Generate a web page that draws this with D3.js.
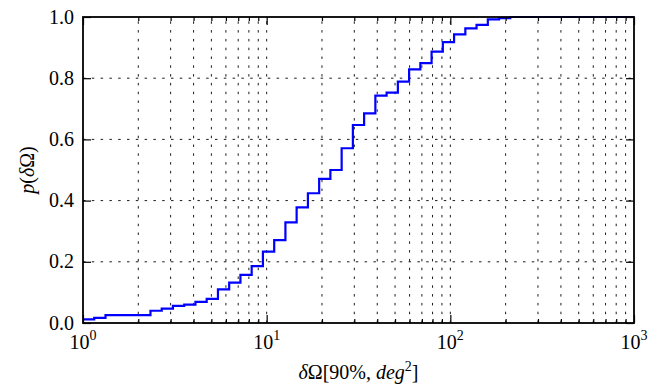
<!DOCTYPE html>
<html>
<head>
<meta charset="utf-8">
<script src="https://cdn.jsdelivr.net/npm/d3@7/dist/d3.min.js"></script>
<style>
  html, body { margin: 0; padding: 0; background: #fff; }
  svg { display: block; }
</style>
</head>
<body>
<svg id="chart" width="670" height="392"></svg>
<script>
// Cumulative distribution of the 90% sky-area, one level per log-spaced bin.
// stepStart: left edge of each bin (deg^2); cdfLevel: p(dOmega) over that bin.
const stepStart = [1, 1.151, 1.326, 2.330, 2.683, 3.089, 3.557, 4.095, 4.715, 5.429,
  6.251, 7.197, 8.286, 9.541, 10.99, 12.65, 14.56, 16.77, 19.31, 22.23,
  25.60, 29.47, 33.93, 39.07, 44.98, 51.80, 59.64, 68.67, 79.06, 91.03,
  104.8, 120.7, 138.9, 160.0, 184.2, 212.1];
const cdfLevel = [0.012, 0.017, 0.026, 0.040, 0.047, 0.056, 0.060, 0.069, 0.079, 0.110,
  0.132, 0.157, 0.186, 0.233, 0.271, 0.329, 0.378, 0.424, 0.471, 0.500,
  0.571, 0.647, 0.685, 0.743, 0.753, 0.789, 0.829, 0.849, 0.887, 0.918,
  0.943, 0.963, 0.974, 0.992, 0.996, 1.0];
const xMax = 1000;

const xMajor = [1, 10, 100, 1000];
const xMajorExp = ["0", "1", "2", "3"];
const xMinor = [2, 3, 4, 5, 6, 7, 8, 9, 20, 30, 40, 50, 60, 70, 80, 90,
  200, 300, 400, 500, 600, 700, 800, 900];
const yTicks = [0, 0.2, 0.4, 0.6, 0.8, 1.0];
const yTickLabels = ["0.0", "0.2", "0.4", "0.6", "0.8", "1.0"];

const FONT = "'Liberation Serif', 'Times New Roman', Times, 'DejaVu Serif', serif";
const L = 83, R = 634, T = 17, B = 323;
const svg = d3.select("#chart");
const x = d3.scaleLog().domain([1, xMax]).range([L, R]);
const y = d3.scaleLinear().domain([0, 1]).range([B, T]);

const dash = "2.5,6.3";
const grid = svg.append("g").attr("stroke", "#000").attr("stroke-width", 0.9)
  .attr("stroke-dasharray", dash).attr("fill", "none");

// vertical grid: minor and major decades
xMinor.concat(xMajor.slice(1, 3)).forEach(v => {
  grid.append("line").attr("x1", x(v)).attr("x2", x(v)).attr("y1", B).attr("y2", T);
});
// horizontal grid
yTicks.slice(1, 5).forEach(v => {
  grid.append("line").attr("x1", L).attr("x2", R).attr("y1", y(v)).attr("y2", y(v));
});

// CDF step line
const pts = stepStart.map((s, i) => [s, cdfLevel[i]]);
pts.push([xMax, cdfLevel[cdfLevel.length - 1]]);
const line = d3.line().x(d => x(d[0])).y(d => y(d[1])).curve(d3.curveStepAfter);
svg.append("path").datum(pts).attr("d", line)
  .attr("fill", "none").attr("stroke", "#0000ff").attr("stroke-width", 2.2);

// inward ticks on all four sides
function styleAxis(g) {
  g.select(".domain").remove();
  g.selectAll(".tick line").attr("stroke", "#000").attr("stroke-width", 1.2);
  g.selectAll(".tick text").remove();
}
svg.append("g").attr("transform", `translate(0,${B})`)
  .call(d3.axisBottom(x).tickValues(xMajor).tickSize(-8).tickFormat("")).call(styleAxis);
svg.append("g").attr("transform", `translate(0,${B})`)
  .call(d3.axisBottom(x).tickValues(xMinor).tickSize(-4).tickFormat("")).call(styleAxis);
svg.append("g").attr("transform", `translate(0,${T})`)
  .call(d3.axisTop(x).tickValues(xMajor).tickSize(-8).tickFormat("")).call(styleAxis);
svg.append("g").attr("transform", `translate(0,${T})`)
  .call(d3.axisTop(x).tickValues(xMinor).tickSize(-4).tickFormat("")).call(styleAxis);
svg.append("g").attr("transform", `translate(${L},0)`)
  .call(d3.axisLeft(y).tickValues(yTicks).tickSize(-8).tickFormat("")).call(styleAxis);
svg.append("g").attr("transform", `translate(${R},0)`)
  .call(d3.axisRight(y).tickValues(yTicks).tickSize(-8).tickFormat("")).call(styleAxis);

// frame
svg.append("rect").attr("x", L).attr("y", T).attr("width", R - L).attr("height", B - T)
  .attr("fill", "none").attr("stroke", "#000").attr("stroke-width", 1.8);

const labels = svg.append("g").attr("font-family", FONT).attr("fill", "#000");

// y tick labels
yTicks.forEach((v, i) => {
  labels.append("text").attr("x", L - 9).attr("y", y(v) + 6.5)
    .attr("text-anchor", "end").attr("font-size", 20).text(yTickLabels[i]);
});

// x tick labels as powers of ten
xMajor.forEach((v, i) => {
  const t = labels.append("text").attr("x", x(v)).attr("y", 349)
    .attr("text-anchor", "middle").attr("font-size", 20);
  t.append("tspan").text("10");
  t.append("tspan").attr("font-size", 14).attr("dy", -9).text(xMajorExp[i]);
});

// x axis label
const xl = labels.append("text").attr("x", (L + R) / 2).attr("y", 379)
  .attr("text-anchor", "middle").attr("font-size", 20);
xl.append("tspan").attr("font-style", "italic").text("δ");
xl.append("tspan").text("Ω[90%, ");
xl.append("tspan").attr("font-style", "italic").text("deg");
xl.append("tspan").attr("font-size", 14).attr("dy", -8).text("2");
xl.append("tspan").attr("dy", 8).text("]");

// y axis label
const yl = labels.append("text").attr("transform", `translate(34,${(T + B) / 2}) rotate(-90)`)
  .attr("text-anchor", "middle").attr("font-size", 20);
yl.append("tspan").attr("font-style", "italic").text("p");
yl.append("tspan").text("(");
yl.append("tspan").attr("font-style", "italic").text("δ");
yl.append("tspan").text("Ω)");
</script>
</body>
</html>
